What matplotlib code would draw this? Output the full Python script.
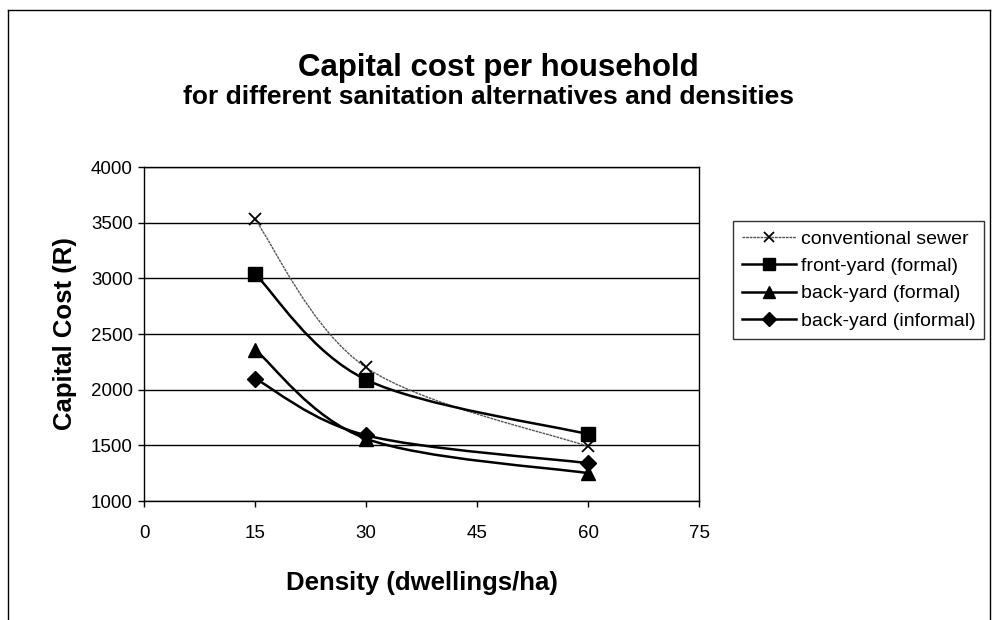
import matplotlib
matplotlib.use("Agg")
import matplotlib.pyplot as plt
from matplotlib.path import Path
from matplotlib.patches import PathPatch
from matplotlib.lines import Line2D
import numpy as np

plt.rcParams['font.family'] = ['Liberation Sans', 'DejaVu Sans']

density = [15, 30, 60]
conventional_sewer = [3530, 2200, 1490]
front_yard_formal = [3040, 2090, 1600]
back_yard_formal = [2360, 1560, 1250]
back_yard_informal = [2100, 1590, 1340]

series_names = ["conventional sewer", "front-yard (formal)", "back-yard (formal)", "back-yard (informal)"]
x_ticks = [0, 15, 30, 45, 60, 75]
y_ticks = [1000, 1500, 2000, 2500, 3000, 3500, 4000]

W, H = 997, 620
fig = plt.figure(figsize=(W / 100, H / 100), dpi=100)
fig.patch.set_facecolor('white')

ax = fig.add_axes([144 / W, 1 - 501 / H, (699 - 144) / W, (501 - 167) / H])


def smooth_path(xs, ys, t=1 / 6):
    pts = np.column_stack([xs, ys]).astype(float)
    n = len(pts)
    verts = [pts[0]]
    codes = [Path.MOVETO]
    for i in range(n - 1):
        p0 = pts[i - 1] if i > 0 else pts[i]
        p1 = pts[i]
        p2 = pts[i + 1]
        p3 = pts[i + 2] if i + 2 < n else pts[i + 1]
        c1 = p1 + (p2 - p0) * t
        c2 = p2 - (p3 - p1) * t
        verts += [c1, c2, p2]
        codes += [Path.CURVE4] * 3
    return Path(verts, codes)


styles = [
    dict(data=conventional_sewer, lcolor='#555555', lw=1.0, ls=(0, (2, 0.6)), marker='x', ms=9, mew=1.3),
    dict(data=front_yard_formal, lcolor='black', lw=1.8, ls='-', marker='s', ms=10.5, mew=1),
    dict(data=back_yard_formal, lcolor='black', lw=1.8, ls='-', marker='^', ms=10.5, mew=1),
    dict(data=back_yard_informal, lcolor='black', lw=1.8, ls='-', marker='D', ms=8.5, mew=1),
]

handles = []
for name, st in zip(series_names, styles):
    path = smooth_path(density, st['data'])
    patch = PathPatch(path, facecolor='none', edgecolor=st['lcolor'], lw=st['lw'],
                      linestyle=st['ls'], zorder=3)
    ax.add_patch(patch)
    ax.plot(density, st['data'], linestyle='none', marker=st['marker'], ms=st['ms'],
            color='black', mec='black', mew=st['mew'], zorder=4)
    handles.append(Line2D([0], [0], color=st['lcolor'], lw=st['lw'], ls=st['ls'],
                          marker=st['marker'], ms=st['ms'] * 0.85, mfc='black', mec='black',
                          mew=st['mew']))

ax.set_xlim(0, 75)
ax.set_ylim(1000, 4000)
ax.set_xticks(x_ticks)
ax.set_yticks(y_ticks)
ax.tick_params(axis='both', labelsize=13.5, direction='out', length=4, width=1, color='black')
ax.tick_params(axis='x', pad=13)
ax.tick_params(axis='y', pad=4)
ax.yaxis.grid(True, color='black', lw=1)
ax.set_axisbelow(True)
for s in ax.spines.values():
    s.set_color('black')
    s.set_linewidth(1)

ax.set_xlabel('Density (dwellings/ha)', fontsize=18.5, fontweight='bold', labelpad=21)
ax.set_ylabel('Capital Cost (R)', fontsize=18.5, fontweight='bold', labelpad=10)

fig.text(0.5, 1 - 68 / H, 'Capital cost per household', ha='center', va='center',
         fontsize=22.5, fontweight='bold')
fig.text(0.49, 1 - 97 / H, 'for different sanitation alternatives and densities', ha='center',
         va='center', fontsize=19, fontweight='bold')

leg = fig.legend(handles, series_names, loc='center left',
                 bbox_to_anchor=(733 / W, 1 - 280 / H), fontsize=14,
                 frameon=True, fancybox=False, edgecolor='black', handlelength=2.8,
                 handletextpad=0.25, borderpad=0.45, labelspacing=0.5, borderaxespad=0)
leg.get_frame().set_linewidth(1)

# outer chart border
fig.add_artist(Line2D([8 / W, 8 / W], [0, 1 - 10 / H], transform=fig.transFigure, color='black', lw=1))
fig.add_artist(Line2D([8 / W, 990 / W], [1 - 10 / H, 1 - 10 / H], transform=fig.transFigure, color='black', lw=1))
fig.add_artist(Line2D([990 / W, 990 / W], [0, 1 - 10 / H], transform=fig.transFigure, color='black', lw=1))

fig.savefig('out.png', dpi=100)
